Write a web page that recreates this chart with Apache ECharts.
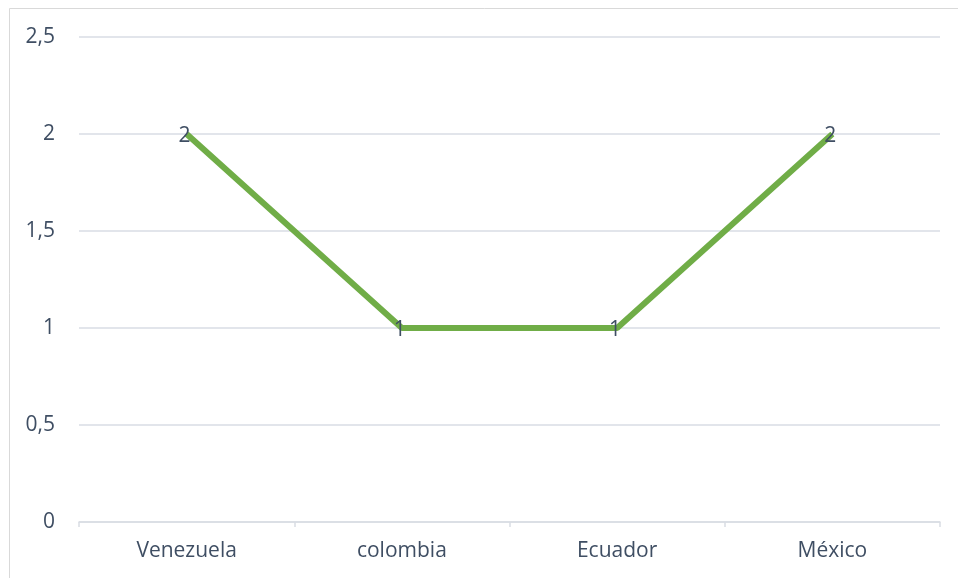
<!DOCTYPE html>
<html><head><meta charset="utf-8">
<script src="https://cdn.jsdelivr.net/npm/echarts@6/dist/echarts.min.js"></script>
<style>html,body{margin:0;padding:0;background:#fff}#c{width:958px;height:578px}</style>
</head><body><div id="c"></div>
<script>
const categories = ['Venezuela', 'colombia', 'Ecuador', 'México'];
const values = [2, 1, 1, 2];
const yTicks = ['0', '0,5', '1', '1,5', '2', '2,5'];

const chart = echarts.init(document.getElementById('c'), null, {renderer: 'canvas'});
const txt = '#3f4e63';
chart.setOption({
  animation: false,
  backgroundColor: '#fff',
  textStyle: {fontFamily: 'Open Sans'},
  graphic: [{type: 'rect', shape: {x: 9.5, y: 8.5, width: 1200, height: 1200}, style: {fill: 'none', stroke: '#d9d9d9', lineWidth: 1}}],
  grid: {left: 79, right: 18, top: 37, bottom: 56},
  xAxis: {
    type: 'category', data: categories, boundaryGap: true,
    axisLine: {lineStyle: {color: '#d9dde4', width: 1.5}},
    axisTick: {show: true, length: 5, lineStyle: {color: '#d9dde4', width: 1.5}},
    axisLabel: {color: txt, fontSize: 21, margin: 19}
  },
  yAxis: {
    type: 'value', min: 0, max: 2.5, interval: 0.5,
    axisLine: {show: false}, axisTick: {show: false},
    splitLine: {lineStyle: {color: '#d9dde4', width: 1.5}},
    axisLabel: {color: txt, fontSize: 21, margin: 24, formatter: v => yTicks[Math.round(v / 0.5)]}
  },
  series: [{
    type: 'line', data: values, symbol: 'circle', symbolSize: 0.5, showSymbol: true,
    lineStyle: {color: '#70ad47', width: 6},
    itemStyle: {color: '#70ad47'},
    label: {show: true, position: 'inside', color: txt, fontSize: 21, offset: [-2, 2]}
  }]
});
</script></body></html>
